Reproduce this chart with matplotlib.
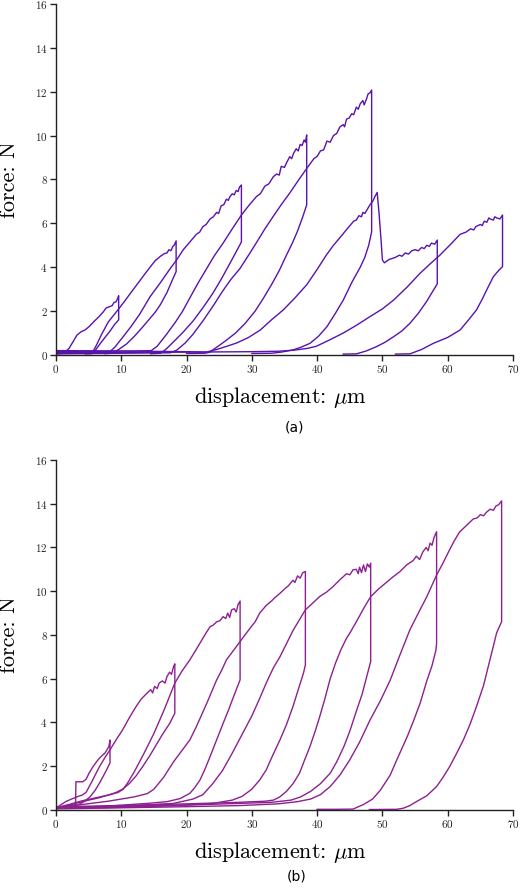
import matplotlib
matplotlib.use("Agg")
import matplotlib.pyplot as plt

plt.rcParams['mathtext.fontset'] = 'cm'
plt.rcParams['axes.formatter.use_mathtext'] = True

# ---- panel (a): load / drop / unload cycles, (displacement um, force N)
a1 = [(0,0.05),(1.2,0.08),(2.0,0.3),(2.6,0.6),(3.2,0.9),(3.8,1.05),(4.5,1.15),(5.1,1.3),(5.9,1.55),
      (6.6,1.75),(7.2,1.95),(7.7,2.15),(8.2,2.2),(8.6,2.25),(8.9,2.4),(9.2,2.42),(9.4,2.55),(9.6,2.7),
      (9.6,1.6),(9.0,1.4),(8.3,1.1),(7.5,0.8),(6.6,0.45),(6.0,0.2),(5.5,0.06),(4.5,0.05)]
a2 = [(0,0.08),(3,0.1),(5.6,0.12),(6.2,0.45),(7.0,0.95),(8.0,1.5),(8.8,1.8),(9.6,2.1),(10.5,2.45),
      (11.5,2.85),(12.5,3.25),(13.5,3.65),(14.4,4.0),(15.2,4.3),(16.0,4.5),(16.6,4.62),(17.0,4.65),
      (17.3,4.8),(17.6,4.75),(17.9,4.95),(18.1,5.0),(18.4,5.2),
      (18.4,3.8),(17.8,3.4),(17.0,2.85),(16.0,2.3),(15.2,1.95),(14.4,1.67),(13.2,1.25),(12.0,0.85),
      (10.8,0.5),(9.6,0.25),(8.6,0.08),(7.5,0.06)]
a3 = [(0,0.1),(4,0.12),(8.2,0.14),(9.0,0.35),(10.2,0.8),(11.5,1.3),(12.8,1.85),(14.4,2.65),(16.0,3.3),
      (17.4,3.9),(18.4,4.3),(19.5,4.8),(20.5,5.15),(21.5,5.5),(22.0,5.6),(22.5,5.85),(23.0,5.95),
      (23.6,6.2),(24.1,6.3),(24.6,6.5),(24.9,6.45),(25.3,6.8),(25.7,6.85),(26.1,7.1),(26.4,7.05),
      (26.6,7.2),(27.0,7.35),(27.3,7.3),(27.6,7.5),(27.9,7.45),(28.1,7.65),(28.4,7.75),
      (28.4,5.15),(27.5,4.65),(26.5,4.1),(25.3,3.45),(24.0,2.8),(22.5,2.15),(21.0,1.55),(19.5,1.05),
      (18.0,0.6),(16.8,0.25),(16.0,0.08),(14.5,0.06)]
a4 = [(0,0.15),(6,0.17),(12,0.18),(14.6,0.2),(15.5,0.4),(16.9,0.93),(18.3,1.5),(19.4,2.0),(20.5,2.6),
      (21.8,3.3),(23.1,3.95),(24.2,4.5),(25.6,5.1),(27.0,5.75),(28.4,6.38),(29.5,6.8),(30.7,7.22),
      (31.3,7.35),(32.0,7.7),(32.6,7.8),(33.3,8.13),(33.8,8.25),(34.2,8.2),(34.5,8.6),(35.0,8.55),
      (35.3,8.75),(35.8,9.04),(36.1,8.95),(36.4,9.2),(36.8,9.4),(37.1,9.3),(37.4,9.6),(37.7,9.55),
      (38.0,9.8),(38.2,9.7),(38.4,10.03),
      (38.4,6.84),(37.8,6.3),(37.0,5.65),(36.2,5.1),(35.3,4.55),(34.2,3.85),(33.0,3.2),(31.8,2.6),
      (30.5,2.0),(29.0,1.45),(27.5,1.0),(26.0,0.65),(24.6,0.35),(23.5,0.12),(22.8,0.08),(20,0.07)]
a5 = [(0,0.05),(10,0.08),(17.5,0.1),(18.5,0.22),(19.8,0.55),(21.0,0.95),(22.5,1.55),(24.1,2.25),
      (25.5,2.9),(26.8,3.45),(28.2,3.95),(29.5,4.55),(30.7,5.12),(32.0,5.75),(33.3,6.33),(34.5,6.85),
      (35.8,7.38),(37.1,7.95),(38.4,8.5),(39.5,8.95),(40.0,9.05),(40.5,9.3),(41.0,9.35),(41.5,9.75),
      (42.0,9.7),(42.5,10.0),(43.0,10.1),(43.5,10.4),(44.0,10.5),(44.2,10.4),(44.5,10.75),(44.9,10.8),
      (45.3,11.0),(45.6,10.95),(46.0,11.3),(46.3,11.2),(46.6,11.45),(47.0,11.6),(47.2,11.4),
      (47.4,11.55),(47.6,11.7),(47.8,11.9),(48.1,11.95),(48.35,12.08),
      (48.35,5.62),(47.9,5.0),(47.3,4.45),(46.6,4.0),(45.3,3.3),(44.0,2.5),(42.8,1.9),(41.5,1.29),
      (40.2,0.85),(38.9,0.53),(37.5,0.35),(36.3,0.23),(34.5,0.13),(33.0,0.08),(30.0,0.07)]
a6 = [(0,0.2),(10,0.18),(20,0.15),(23,0.13),(24.6,0.25),(26.2,0.4),(27.7,0.55),(29.5,0.8),(31.3,1.14),
      (33.0,1.6),(34.8,2.05),(36.6,2.6),(38.4,3.2),(40.0,3.9),(41.4,4.55),(42.5,5.0),(43.5,5.35),
      (44.6,5.75),(45.6,6.1),(46.0,6.15),(46.4,6.35),(46.8,6.3),(47.0,6.5),(47.3,6.45),(47.6,6.6),
      (48.1,6.85),(48.5,7.0),(48.9,7.25),(49.2,7.41),(49.5,6.4),(49.8,5.2),(50.0,4.33),(50.3,4.2),
      (51.0,4.35),(52.0,4.45),(52.6,4.55),(53.0,4.5),(53.5,4.65),(54.0,4.6),(54.5,4.75),(55.0,4.8),
      (55.5,4.75),(56.0,4.9),(56.4,4.85),(56.8,5.0),(57.2,4.95),(57.5,5.1),(58.0,5.05),(58.4,5.24),
      (58.4,3.24),(57.6,2.85),(56.8,2.45),(55.5,1.9),(54.2,1.44),(53.0,1.1),(51.7,0.83),(50.4,0.58),
      (49.1,0.38),(47.5,0.18),(46.0,0.05),(44.0,0.04)]
a7 = [(0,0.1),(15,0.12),(30,0.15),(34,0.17),(36.5,0.22),(38.5,0.3),(39.9,0.4),(42.0,0.7),(44.0,1.0),
      (46.0,1.35),(48.1,1.75),(50.0,2.1),(51.7,2.5),(53.8,3.1),(55.75,3.72),(57.3,4.15),(58.8,4.55),
      (60.3,5.0),(61.9,5.5),(62.8,5.6),(63.5,5.75),(64.0,5.7),(64.3,5.85),(65.0,5.95),(65.3,5.9),
      (65.6,6.1),(66.0,6.05),(66.3,6.25),(66.5,6.2),(67.0,6.15),(67.2,6.3),(67.5,6.25),(68.0,6.2),
      (68.4,6.38),
      (68.4,4.03),(67.8,3.85),(67.0,3.57),(66.2,3.1),(65.3,2.55),(64.4,2.05),(63.2,1.6),(61.9,1.14),
      (60.0,0.8),(57.8,0.53),(56.0,0.25),(54.2,0.05),(52.0,0.04)]

# ---- panel (b)
b1 = [(0,0.05),(1,0.12),(2,0.18),(3.0,0.25),(3.05,1.29),(4.1,1.29),(4.6,1.4),(5.1,1.7),(5.6,1.95),
      (6.2,2.2),(6.6,2.35),(7.1,2.5),(7.5,2.6),(7.9,2.8),(8.1,2.9),(8.27,3.2),
      (8.27,2.15),(7.6,1.75),(6.8,1.3),(6.0,0.9),(5.2,0.6),(4.4,0.4),(3.6,0.27),(3.0,0.2),(2.0,0.15),(1,0.1)]
b2 = [(0,0.08),(0.8,0.25),(1.6,0.4),(2.4,0.5),(3.2,0.6),(4.0,0.68),(4.6,0.8),(5.5,1.3),(6.6,1.95),
      (7.5,2.4),(8.27,2.75),(9.2,3.2),(10.2,3.66),(11.2,4.2),(12.25,4.72),(13.0,5.05),(13.8,5.3),
      (14.5,5.5),(14.8,5.35),(15.1,5.65),(15.5,5.55),(15.8,5.8),(16.3,5.9),(16.7,5.8),(17.0,6.1),
      (17.4,6.3),(17.7,6.2),(18.0,6.55),(18.2,6.68),
      (18.2,4.42),(17.4,3.95),(16.3,3.45),(15.3,2.95),(14.3,2.45),(13.2,1.95),(12.25,1.55),(11.2,1.2),
      (10.2,0.95),(9.2,0.8),(8.2,0.7),(6.5,0.55),(5,0.45),(3,0.3),(1.5,0.2),(0.5,0.1)]
b3 = [(0,0.1),(2,0.25),(4,0.42),(6,0.55),(8,0.68),(9.5,0.8),(10.3,0.95),(11.0,1.25),(12.0,1.75),
      (13.5,2.6),(15.0,3.5),(16.6,4.6),(18.2,5.8),(19.3,6.35),(20.5,6.86),(21.3,7.25),(22.0,7.6),
      (22.8,8.0),(23.6,8.38),(24.1,8.45),(24.6,8.6),(25.1,8.65),(25.6,8.84),(26.0,8.75),(26.3,9.0),
      (26.6,8.8),(26.9,9.15),(27.3,9.2),(27.6,9.05),(27.9,9.4),(28.2,9.55),
      (28.2,5.95),(27.2,5.18),(26.4,4.55),(25.6,3.96),(24.6,3.2),(23.6,2.44),(22.8,1.85),(22.05,1.37),
      (21.2,1.0),(20.5,0.76),(19.0,0.52),(17.0,0.38),(14,0.3),(10,0.22),(6,0.15),(2,0.1)]
b4 = [(0,0.1),(4,0.25),(8,0.4),(12,0.6),(14,0.75),(15,0.95),(16.5,1.5),(18,2.2),(19.5,2.8),(20.5,3.2),
      (21.5,3.81),(23.1,4.88),(24.6,5.94),(25.4,6.4),(26.1,6.86),(27.2,7.3),(28.2,7.7),(29.7,8.3),
      (30.5,8.6),(31.2,9.0),(32.2,9.35),(33.0,9.55),(33.5,9.7),(34.3,9.9),(35.0,10.1),(35.6,10.25),
      (36.3,10.5),(36.6,10.4),(37.0,10.7),(37.4,10.6),(37.8,10.85),(38.2,10.9),
      (38.2,6.63),(37.9,6.25),(37.0,5.4),(36.3,4.73),(35.3,3.9),(34.3,3.2),(33.2,2.5),(32.2,1.83),
      (31.2,1.37),(30.0,0.95),(28.5,0.62),(27,0.45),(24,0.3),(18,0.2),(10,0.12),(4,0.08)]
b5 = [(0,0.12),(6,0.15),(12,0.2),(18,0.3),(21,0.5),(22.5,0.7),(24.0,1.2),(25.5,1.8),(27.0,2.6),
      (28.5,3.45),(30.0,4.3),(31.2,5.1),(32.2,5.8),(33.3,6.5),(34.3,7.0),(35.3,7.6),(36.3,8.2),
      (37.3,8.7),(38.2,9.15),(39.3,9.45),(40.4,9.76),(41.4,9.95),(42.4,10.2),(43.4,10.5),(44.5,10.8),
      (45.0,10.75),(45.5,10.98),(46.0,11.0),(46.3,10.8),(46.5,11.1),(46.8,10.85),(47.1,11.2),
      (47.4,10.9),(47.7,11.25),(48.0,11.1),(48.2,11.28),
      (48.2,6.78),(47.6,6.1),(46.9,5.3),(46.1,4.6),(45.0,3.6),(44.1,2.9),(43.0,2.2),(42.0,1.68),
      (40.5,1.2),(39.0,0.85),(37.5,0.6),(36,0.45),(33,0.35),(28,0.3),(20,0.22),(10,0.15),(3,0.1)]
b6 = [(0,0.15),(10,0.2),(20,0.28),(28,0.35),(32,0.4),(33.3,0.45),(34.3,0.6),(35.3,0.85),(36.3,1.2),
      (37.3,1.68),(38.1,2.3),(38.9,2.9),(39.7,3.6),(40.4,4.27),(41.2,5.1),(42.0,6.0),(42.8,6.7),
      (43.6,7.3),(44.5,7.85),(45.0,8.08),(46.0,8.6),(47.1,9.2),(48.2,9.75),(49.4,10.1),(50.6,10.4),
      (51.6,10.65),(52.7,10.9),(53.7,11.2),(54.7,11.4),(55.2,11.6),(55.7,11.45),(56.2,11.8),
      (56.7,12.0),(57.0,11.85),(57.3,12.2),(57.6,12.1),(57.9,12.45),(58.3,12.72),
      (58.3,7.62),(58.2,7.31),(57.6,6.6),(56.8,5.9),(55.8,4.9),(54.8,4.1),(53.8,3.35),(52.2,2.29),
      (51.2,1.6),(49.7,0.91),(48.5,0.5),(47.1,0.25),(45.5,0.04),(43,0.03),(40,0.03)]
b7 = [(0,0.05),(10,0.1),(20,0.15),(28,0.2),(34,0.28),(37,0.38),(39,0.5),(40.5,0.7),(42.0,1.07),
      (43.5,1.6),(45.0,2.29),(46.5,3.1),(48.1,4.11),(49.7,5.0),(51.2,5.94),(52.7,7.1),(54.2,8.23),
      (55.5,9.0),(56.8,9.75),(58.3,10.74),(59.3,11.3),(60.3,11.9),(61.0,12.3),(61.8,12.7),(62.5,12.9),
      (63.2,13.1),(63.9,13.3),(64.5,13.35),(65.0,13.5),(65.5,13.45),(65.9,13.6),(66.5,13.75),
      (67.0,13.7),(67.4,13.9),(67.8,13.95),(68.26,14.13),
      (68.26,8.61),(67.5,8.1),(66.5,6.9),(65.5,5.7),(64.4,4.72),(63.4,3.9),(62.4,3.2),(61.3,2.55),
      (60.3,1.98),(59.3,1.5),(58.3,1.07),(56.8,0.65),(55.2,0.38),(54.2,0.2),(53.2,0.08),(52.2,0.03),(48,0.02)]

cycles_a = [a1, a2, a3, a4, a5, a6, a7]
cycles_b = [b1, b2, b3, b4, b5, b6, b7]

x_ticks = [0, 10, 20, 30, 40, 50, 60, 70]
y_ticks = [0, 2, 4, 6, 8, 10, 12, 14, 16]


def draw(ax, cycles, color):
    for c in cycles:
        ax.plot([p[0] for p in c], [p[1] for p in c], color=color, lw=1.0)
    ax.set_xlim(0, 70)
    ax.set_ylim(0, 16)
    ax.set_xticks(x_ticks)
    ax.set_yticks(y_ticks)
    for s in ["top", "right"]:
        ax.spines[s].set_visible(False)
    for s in ["left", "bottom"]:
        ax.spines[s].set_color("#222222")
        ax.spines[s].set_linewidth(1.0)
    ax.tick_params(direction="out", length=4, width=1, pad=2, labelsize=8,
                   colors="#222222")
    for lab in ax.get_xticklabels() + ax.get_yticklabels():
        lab.set_fontfamily("cmr10")
    ax.set_xlabel(r"displacement: $\mu$m", fontsize=16, fontfamily="cmr10")
    ax.set_ylabel("force: N", fontsize=16, fontfamily="cmr10")
    ax.xaxis.set_label_coords(0.492, -0.085)
    ax.yaxis.set_label_coords(-0.08, 0.5)


fig = plt.figure(figsize=(5.2, 8.89), dpi=100)
ax_a = fig.add_axes([0.1077, 0.6007, 0.8788, 0.3948])
ax_b = fig.add_axes([0.1077, 0.0889, 0.8788, 0.3937])

draw(ax_a, cycles_a, "#5a12ad")
draw(ax_b, cycles_b, "#8c2090")

fig.text(0.567, 0.5186, "(a)", ha="center", va="center", fontsize=10, family="DejaVu Sans")
fig.text(0.571, 0.0146, "(b)", ha="center", va="center", fontsize=10, family="DejaVu Sans")

fig.savefig("out.png", dpi=100)
